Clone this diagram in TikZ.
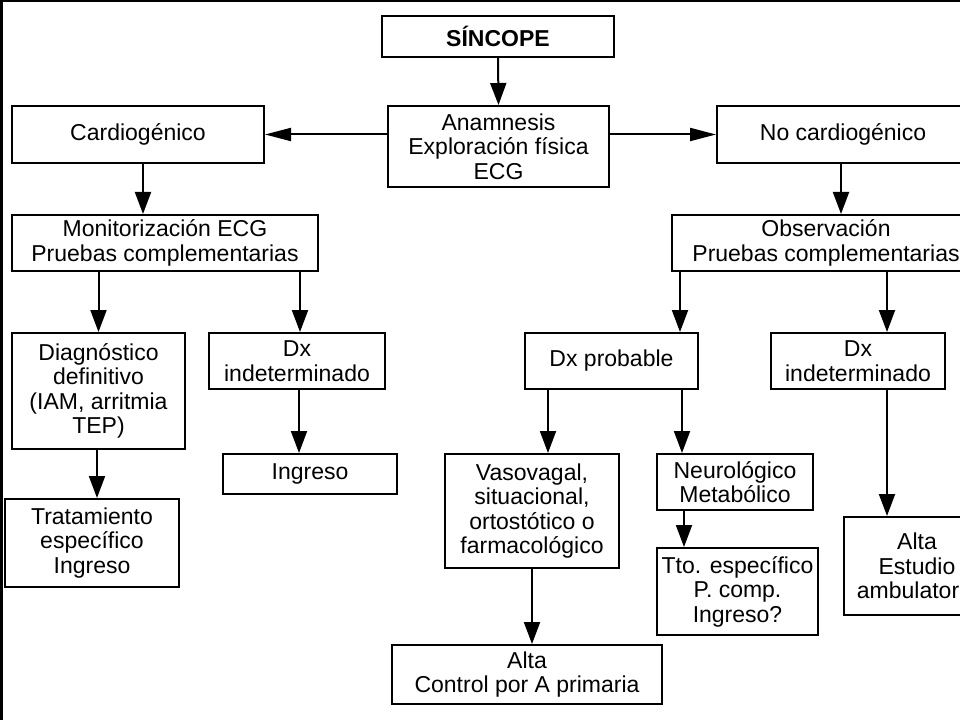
\documentclass[tikz,border=0pt]{standalone}
\usepackage{fontspec}
\setmainfont{Liberation Sans}
\usetikzlibrary{arrows.meta}
\tikzset{
  box/.style={draw, line width=2bp, inner sep=0pt, align=center,
    font=\fontsize{23bp}{24.5bp}\selectfont},
  arr/.style={line width=2bp, -{Triangle[length=22bp,width=16bp]}},
  harr/.style={line width=2bp, -{Triangle[length=26bp,width=13bp]}},
  frame/.style={line width=2.5bp}
}
\begin{document}
\begin{tikzpicture}[x=1bp,y=-1bp]
\useasboundingbox (0,0) rectangle (960,720);
\clip (0,0) rectangle (960,720);
\fill[white] (0,0) rectangle (960,720);
\draw[frame] (0,1) -- (960,1);
\draw[line width=3bp] (1.5,0) -- (1.5,720);

\node[box, minimum width=232bp, minimum height=41bp] (sin) at (498,36.5) {\textbf{SÍNCOPE}};
\node[box, minimum width=221bp, minimum height=81bp] (anam) at (498.5,146.5) {Anamnesis\\Exploración física\\ECG};
\node[box, minimum width=252bp, minimum height=57bp] (card) at (138,134.5) {Cardiogénico};
\node[box, minimum width=252bp, minimum height=57bp] (nocard) at (843,134.5) {No cardiogénico};
\node[box, minimum width=306bp, minimum height=56bp] (mon) at (165,243) {Monitorización ECG\\Pruebas complementarias};
\node[box, minimum width=308bp, minimum height=56bp] (obs) at (826,243) {Observación\\Pruebas complementarias};
\node[box, minimum width=173bp, minimum height=116bp] (diag) at (98.5,391) {Diagnóstico\\definitivo\\(IAM, arritmia\\TEP)};
\node[box, minimum width=176bp, minimum height=56bp] (dxi1) at (297,361) {Dx\\indeterminado};
\node[box, minimum width=173bp, minimum height=56bp] (dxp) at (611.5,361) {Dx probable};
\node[box, minimum width=174bp, minimum height=56bp] (dxi2) at (858,361) {Dx\\indeterminado};
\node[box, minimum width=174bp, minimum height=40bp] (ingr) at (310,474) {Ingreso};
\node[box, minimum width=174bp, minimum height=88bp] (trat) at (92,543) {Tratamiento\\específico\\Ingreso};
\node[box, minimum width=174bp, minimum height=114bp] (vaso) at (532,511) {Vasovagal,\\situacional,\\ortostótico o\\farmacológico};
\node[box, minimum width=156bp, minimum height=56bp] (neuro) at (735,482) {Neurológico\\Metabólico};
\node[box, minimum width=161bp, minimum height=87bp] (tto) at (737.5,591.5) {Tto. específico\\P. comp.\\Ingreso?};
\node[box, minimum width=270bp, minimum height=59bp] (altac) at (527,674.5) {Alta\\Control por A primaria};
\node[box, minimum width=146bp, minimum height=98bp] (altae) at (917,566) {Alta\\Estudio\\ambulatorio};

\draw[arr] (sin.south) -- (anam.north);
\draw[harr] (anam.west |- card) -- (card.east);
\draw[harr] (anam.east |- nocard) -- (nocard.west);
\draw[arr] (143,0 |- card.south) -- (143,0 |- mon.north);
\draw[arr] (diag.north |- mon.south) -- (diag.north);
\draw[arr] (300,0 |- mon.south) -- (300,0 |- dxi1.north);
\draw[arr] (diag.south -| 97,0) -- (97,0 |- trat.north);
\draw[arr] (299,0 |- dxi1.south) -- (299,0 |- ingr.north);
\draw[arr] (841,0 |- nocard.south) -- (841,0 |- obs.north);
\draw[arr] (680,0 |- obs.south) -- (680,0 |- dxp.north);
\draw[arr] (887,0 |- obs.south) -- (887,0 |- dxi2.north);
\draw[arr] (548,0 |- dxp.south) -- (548,0 |- vaso.north);
\draw[arr] (682,0 |- dxp.south) -- (682,0 |- neuro.north);
\draw[arr] (684,0 |- neuro.south) -- (684,0 |- tto.north);
\draw[arr] (vaso.south) -- (vaso.south |- altac.north);
\draw[arr] (887,0 |- dxi2.south) -- (887,0 |- altae.north);
\end{tikzpicture}
\end{document}
